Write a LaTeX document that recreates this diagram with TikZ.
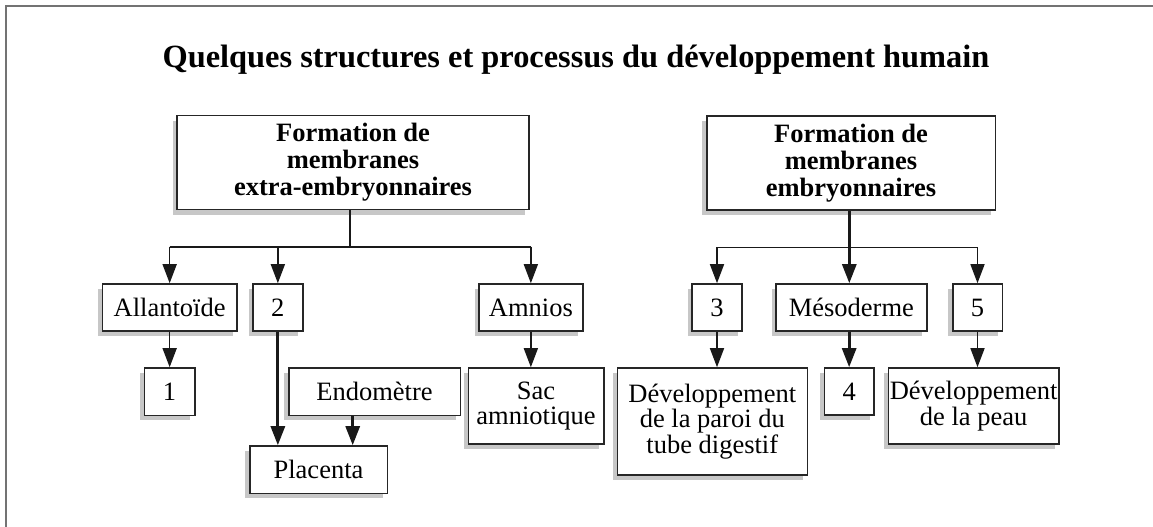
\documentclass[tikz,border=0pt]{standalone}
\usepackage{fontspec}
\setmainfont{Liberation Serif}
\usetikzlibrary{arrows.meta,shadows}
\begin{document}
\begin{tikzpicture}[x=1pt,y=-1pt,
  box/.style={draw=black!85, line width=1.6pt, fill=white, inner sep=0pt, align=center,
    font=\fontsize{26.5}{25.5}\selectfont,
    drop shadow={shadow xshift=-4.5pt, shadow yshift=-5pt, fill=black!22, opacity=1}},
  hbox/.style={box, font=\bfseries\fontsize{26.5}{27}\selectfont},
  thinline/.style={draw=black!90, line width=1.6pt},
  thickline/.style={draw=black!90, line width=2.8pt},
  tip/.style={-{Triangle[length=19pt,width=14pt]}},
  frame/.style={draw=black!55, line width=2pt}
]
\useasboundingbox (0,0) rectangle (1153,527);
\draw[frame] (6,527) -- (6,6) -- (1153,6);
\node[anchor=base, font=\bfseries\fontsize{32.4}{34}\selectfont] (title) at (576,67)
  {Quelques structures et processus du développement humain};
% header boxes
\node[hbox, minimum width=352pt, minimum height=94pt] (A) at (353,162.6)
  {Formation de\\membranes\\extra-embryonnaires};
\node[hbox, minimum width=288.6pt, minimum height=94.3pt] (B) at (851,162.85)
  {Formation de\\membranes\\embryonnaires};
% row 1
\node[box, minimum width=134.7pt, minimum height=47pt] (all) at (169.65,307.5) {Allantoïde};
\node[box, minimum width=49.7pt, minimum height=47pt] (two) at (277.85,307.5) {2};
\node[box, minimum width=103.7pt, minimum height=47pt] (amn) at (530.85,307.5) {Amnios};
\node[box, minimum width=50pt, minimum height=47pt] (three) at (717,307.5) {3};
\node[box, minimum width=150.7pt, minimum height=47pt] (meso) at (851.35,307.5) {Mésoderme};
\node[box, minimum width=49.6pt, minimum height=47pt] (five) at (977.5,307.5) {5};
% row 2
\node[box, minimum width=50.4pt, minimum height=47.3pt] (one) at (169.5,391.65) {1};
\node[box, minimum width=171.6pt, minimum height=47.3pt] (endo) at (374.5,391.65) {Endomètre};
\node[box, minimum width=135.4pt, minimum height=76pt] (sac) at (536,406) {Sac\\amniotique};
\node[box, minimum width=190pt, minimum height=107pt] (paroi) at (712.3,421.5)
  {Développement\\de la paroi du\\tube digestif};
\node[box, minimum width=49.7pt, minimum height=47pt] (four) at (849.15,391.5) {4};
\node[box, minimum width=170.7pt, minimum height=76pt] (peau) at (973.65,406)
  {Développement\\de la peau};
\node[box, minimum width=137.6pt, minimum height=47.3pt] (plac) at (318.5,469.65) {Placenta};
% junctions
\coordinate (ja) at (350,246.7);
\coordinate (jb) at (849.3,247.3);
\coordinate (je) at (352.7,0);
% left tree
\draw[thickline] (A.south -| ja) -- (ja);
\draw[thinline] (all.north |- ja) -- (amn.north |- ja);
\draw[thinline, tip] (all.north |- ja) -- (all.north);
\draw[thinline, tip] (two.north |- ja) -- (two.north);
\draw[thinline, tip] (amn.north |- ja) -- (amn.north);
\draw[thinline, tip] (all.south) -- (all.south |- one.north);
\draw[thickline, tip] (two.south) -- (two.south |- plac.north);
\draw[thickline, tip] (endo.south -| je) -- (plac.north -| je);
\draw[thinline, tip] (amn.south) -- (amn.south |- sac.north);
% right tree
\draw[thinline] (three.north |- jb) -- (five.north |- jb);
\draw[thickline, tip] (B.south -| jb) -- (meso.north -| jb);
\draw[thinline, tip] (three.north |- jb) -- (three.north);
\draw[thinline, tip] (five.north |- jb) -- (five.north);
\draw[thinline, tip] (three.south) -- (three.south |- paroi.north);
\draw[thickline, tip] (meso.south -| four.north) -- (four.north);
\draw[thinline, tip] (five.south) -- (five.south |- peau.north);
\end{tikzpicture}
\end{document}
